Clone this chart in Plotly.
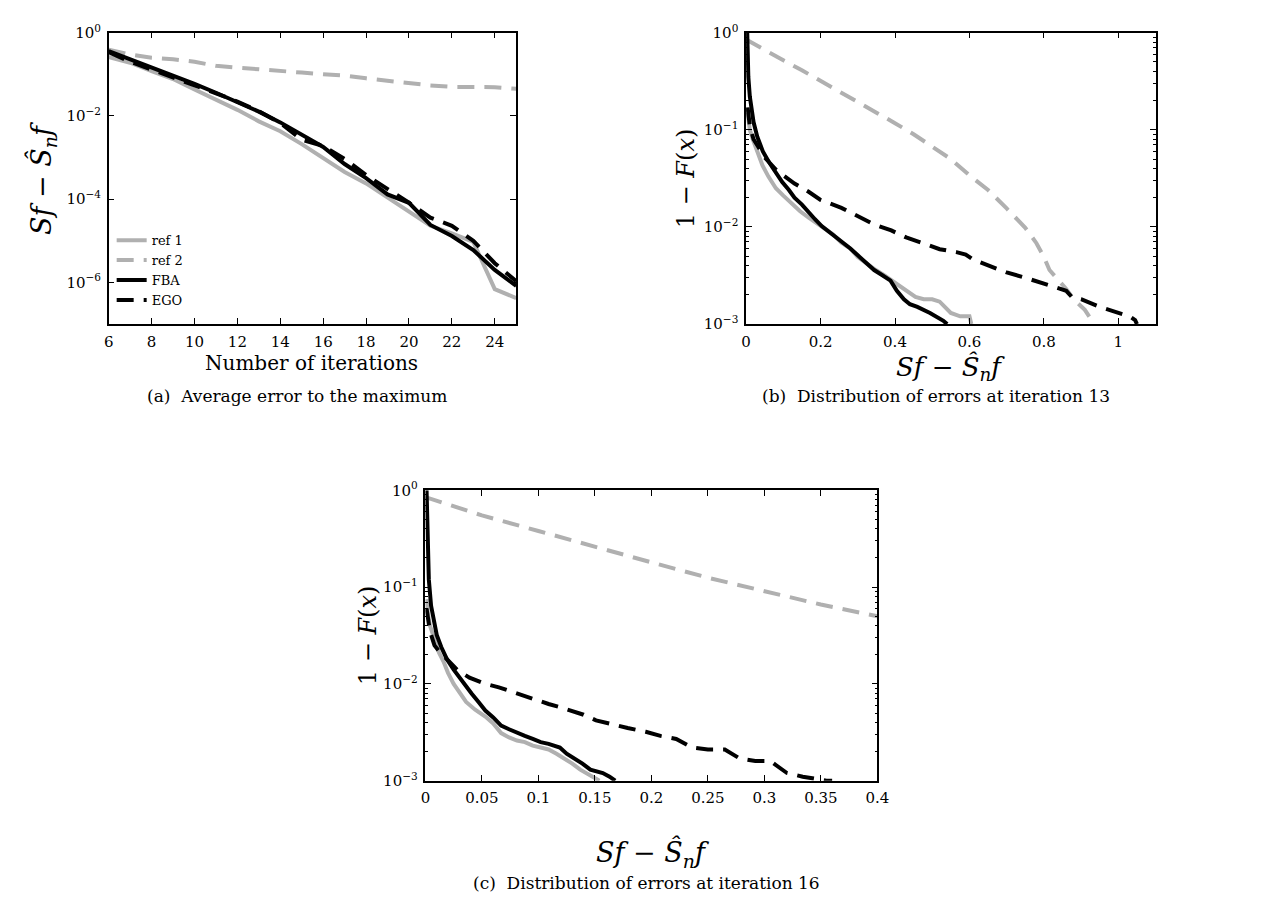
import plotly.graph_objects as go

# ---------------- data ----------------
iters = list(range(6, 26))
a_ref1 = [0.26, 0.19, 0.12, 0.077, 0.043, 0.025, 0.014, 0.0074, 0.0043, 0.0021, 0.001, 0.00045,
          0.00024, 0.00011, 5.2e-5, 2.3e-5, 1.5e-5, 9.4e-6, 6.9e-7, 4.2e-7]
a_ref2 = [0.39, 0.3, 0.25, 0.23, 0.2, 0.16, 0.145, 0.13, 0.12, 0.11, 0.1, 0.093, 0.08, 0.07,
          0.061, 0.054, 0.05, 0.05, 0.049, 0.045]
a_fba = [0.36, 0.23, 0.145, 0.093, 0.059, 0.036, 0.022, 0.0127, 0.007, 0.0036, 0.0018, 0.0007,
         0.00032, 0.00013, 8.2e-5, 2.4e-5, 1.3e-5, 6e-6, 2e-6, 8.3e-7]
a_ego = [0.34, 0.2, 0.13, 0.085, 0.055, 0.035, 0.022, 0.013, 0.0068, 0.0027, 0.0019, 0.00093,
         0.00038, 0.00018, 8.2e-5, 3.6e-5, 2.3e-5, 1.0e-5, 2.9e-6, 1.07e-6]

b_ref1_x = [0.004, 0.006, 0.01, 0.018, 0.03, 0.044, 0.06, 0.08, 0.1, 0.124, 0.145, 0.168, 0.19,
            0.212, 0.235, 0.256, 0.28, 0.3, 0.32, 0.344, 0.37, 0.397, 0.43, 0.455, 0.477, 0.5,
            0.52, 0.535, 0.55, 0.575, 0.6, 0.605]
b_ref1_y = [0.15, 0.12, 0.1, 0.08, 0.058, 0.043, 0.033, 0.025, 0.021, 0.017, 0.0145, 0.0125, 0.011,
            0.0095, 0.0083, 0.0069, 0.006, 0.0049, 0.0043, 0.0037, 0.0032, 0.0027, 0.0022, 0.0019,
            0.0018, 0.0018, 0.0017, 0.0015, 0.0013, 0.0012, 0.0012, 0.001]
b_ref2_x = [0.0, 0.05, 0.1, 0.15, 0.2, 0.25, 0.3, 0.35, 0.4, 0.45, 0.5, 0.55, 0.6, 0.65, 0.7,
            0.75, 0.78, 0.8, 0.815, 0.83, 0.86, 0.88, 0.91, 0.935]
b_ref2_y = [0.85, 0.66, 0.52, 0.41, 0.32, 0.25, 0.19, 0.15, 0.117, 0.09, 0.068, 0.05, 0.034,
            0.024, 0.0155, 0.0098, 0.0068, 0.0049, 0.0036, 0.0031, 0.0023, 0.0018, 0.0014, 0.001]
b_fba_x = [0.003, 0.004, 0.006, 0.01, 0.015, 0.02, 0.03, 0.045, 0.062, 0.08, 0.097, 0.115, 0.13,
           0.15, 0.168, 0.185, 0.203, 0.23, 0.256, 0.28, 0.3, 0.32, 0.344, 0.365, 0.388, 0.405,
           0.424, 0.44, 0.46, 0.494, 0.515, 0.53, 0.54]
b_fba_y = [1.0, 0.6, 0.35, 0.22, 0.15, 0.12, 0.085, 0.06, 0.046, 0.036, 0.029, 0.024, 0.020,
           0.017, 0.014, 0.012, 0.0102, 0.0085, 0.0072, 0.006, 0.0051, 0.0043, 0.0036, 0.0032,
           0.0028, 0.0022, 0.0018, 0.0016, 0.0015, 0.0013, 0.00118, 0.00108, 0.001]
b_ego_x = [0.004, 0.01, 0.02, 0.035, 0.05, 0.065, 0.08, 0.1, 0.13, 0.168, 0.2, 0.256, 0.3, 0.344,
           0.39, 0.43, 0.48, 0.52, 0.565, 0.59, 0.61, 0.65, 0.7, 0.75, 0.785, 0.83, 0.86, 0.875,
           0.9, 0.95, 1.0, 1.03, 1.045, 1.05]
b_ego_y = [0.17, 0.11, 0.08, 0.065, 0.052, 0.045, 0.039, 0.034, 0.028, 0.023, 0.019, 0.0157,
           0.0128, 0.0106, 0.0092, 0.0078, 0.0067, 0.0059, 0.0055, 0.0052, 0.0046, 0.004, 0.0034,
           0.003, 0.0027, 0.0024, 0.0022, 0.0019, 0.0018, 0.0015, 0.0013, 0.0012, 0.0011, 0.001]

c_ref1_x = [0.001, 0.002, 0.004, 0.008, 0.012, 0.016, 0.02, 0.025, 0.03, 0.036, 0.044, 0.053,
            0.06, 0.067, 0.074, 0.081, 0.088, 0.095, 0.102, 0.109, 0.116, 0.123, 0.13, 0.137,
            0.143, 0.148, 0.154]
c_ref1_y = [0.075, 0.055, 0.04, 0.029, 0.021, 0.017, 0.013, 0.01, 0.0082, 0.0065, 0.0054, 0.0046,
            0.0039, 0.0031, 0.0028, 0.0026, 0.0025, 0.0023, 0.0022, 0.0021, 0.0019, 0.0017,
            0.0015, 0.0013, 0.0012, 0.0011, 0.001]
c_ref2_x = [0.0, 0.05, 0.1, 0.15, 0.2, 0.25, 0.3, 0.35, 0.4]
c_ref2_y = [0.85, 0.55, 0.38, 0.26, 0.18, 0.125, 0.09, 0.066, 0.05]
c_fba_x = [0.001, 0.0015, 0.002, 0.003, 0.005, 0.008, 0.01, 0.014, 0.019, 0.025, 0.03, 0.036,
           0.041, 0.047, 0.053, 0.06, 0.067, 0.074, 0.081, 0.088, 0.095, 0.102, 0.109, 0.114,
           0.119, 0.125, 0.132, 0.139, 0.146, 0.152, 0.157, 0.163, 0.168]
c_fba_y = [1.0, 0.5, 0.25, 0.12, 0.064, 0.04, 0.032, 0.024, 0.018, 0.014, 0.0116, 0.0095, 0.0079,
           0.0065, 0.0053, 0.0045, 0.0037, 0.0034, 0.0031, 0.0029, 0.0027, 0.0025, 0.0024, 0.0023,
           0.0022, 0.0019, 0.0017, 0.0015, 0.0013, 0.00125, 0.0012, 0.0011, 0.001]
c_ego_x = [0.001, 0.004, 0.008, 0.013, 0.019, 0.028, 0.039, 0.053, 0.065, 0.081, 0.095, 0.109,
           0.12, 0.126, 0.14, 0.151, 0.165, 0.179, 0.195, 0.208, 0.222, 0.236, 0.25, 0.265, 0.278,
           0.292, 0.305, 0.312, 0.32, 0.334, 0.343, 0.355, 0.36]
c_ego_y = [0.06, 0.035, 0.025, 0.021, 0.018, 0.014, 0.0116, 0.01, 0.0092, 0.0079, 0.007, 0.0062,
           0.0057, 0.0054, 0.0048, 0.0042, 0.0038, 0.0035, 0.0032, 0.0029, 0.0027, 0.0022, 0.0021,
           0.0021, 0.0017, 0.0016, 0.0016, 0.0014, 0.0012, 0.0011, 0.00105, 0.001, 0.001]

a_xticks = [6, 8, 10, 12, 14, 16, 18, 20, 22, 24]
a_yticks = [1, 1e-2, 1e-4, 1e-6]
a_ytext = ["10<sup>0</sup>", "10<sup>−2</sup>", "10<sup>−4</sup>", "10<sup>−6</sup>"]
b_xticks = [0, 0.2, 0.4, 0.6, 0.8, 1.0]
b_xtext = ["0", "0.2", "0.4", "0.6", "0.8", "1"]
c_xticks = [0, 0.05, 0.1, 0.15, 0.2, 0.25, 0.3, 0.35, 0.4]
c_xtext = ["0", "0.05", "0.1", "0.15", "0.2", "0.25", "0.3", "0.35", "0.4"]
bc_yticks = [1, 0.1, 0.01, 0.001]
bc_ytext = ["10<sup>0</sup>", "10<sup>−1</sup>", "10<sup>−2</sup>", "10<sup>−3</sup>"]
names = ["ref 1", "ref 2", "FBA", "EGO"]

# ---------------- styling ----------------
GRAY = "#b0b0b0"
W = 4
DASH = "17px,10px"
styles = {
    "ref 1": dict(color=GRAY, width=W, dash="solid"),
    "ref 2": dict(color=GRAY, width=W, dash=DASH),
    "FBA": dict(color="black", width=W, dash="solid"),
    "EGO": dict(color="black", width=W, dash=DASH),
}
FONT = "DejaVu Serif, Liberation Serif, serif"
WID, HEI = 1276, 899

fig = go.Figure()

def add(x, y, name, xa, ya, legend):
    fig.add_trace(go.Scatter(x=x, y=y, mode="lines", name=name, line=styles[name],
                             xaxis=xa, yaxis=ya, showlegend=legend))

for nm, ys in zip(names, [a_ref1, a_ref2, a_fba, a_ego]):
    add(iters, ys, nm, "x", "y", True)
for nm, xs, ys in zip(names, [b_ref1_x, b_ref2_x, b_fba_x, b_ego_x],
                      [b_ref1_y, b_ref2_y, b_fba_y, b_ego_y]):
    add(xs, ys, nm, "x2", "y2", False)
for nm, xs, ys in zip(names, [c_ref1_x, c_ref2_x, c_fba_x, c_ego_x],
                      [c_ref1_y, c_ref2_y, c_fba_y, c_ego_y]):
    add(xs, ys, nm, "x3", "y3", False)

def px_dom(x0, x1):
    return [x0 / WID, x1 / WID]

def py_dom(y0, y1):
    return [1 - y1 / HEI, 1 - y0 / HEI]

axbase = dict(showline=True, linecolor="black", linewidth=1.5, mirror="allticks",
              ticks="inside", ticklen=6, tickcolor="black", tickwidth=1.2, showgrid=False,
              zeroline=False, ticklabelstandoff=3,
              tickfont=dict(family=FONT, size=15, color="black"))

# panel geometry (pixels)
A = (97, 510, 14, 312)
B = (743, 1158, 14, 312)
C = (418, 876, 482, 779)

minor_vals = [k * 10 ** e for e in (-3, -2, -1) for k in range(2, 10)]
minor = dict(ticks="inside", ticklen=3, tickcolor="black", tickvals=minor_vals, showgrid=False)

fig.update_layout(
    xaxis=dict(axbase, domain=px_dom(A[0], A[1]), anchor="y", range=[6, 25],
               tickvals=a_xticks),
    yaxis=dict(axbase, domain=py_dom(A[2], A[3]), anchor="x", type="log", range=[-7, 0],
               tickvals=a_yticks, ticktext=a_ytext),
    xaxis2=dict(axbase, domain=px_dom(B[0], B[1]), anchor="y2", range=[0, 1.1],
                tickvals=b_xticks, ticktext=b_xtext),
    yaxis2=dict(axbase, domain=py_dom(B[2], B[3]), anchor="x2", type="log", range=[-3, 0],
                tickvals=bc_yticks, ticktext=bc_ytext, minor=minor),
    xaxis3=dict(axbase, domain=px_dom(C[0], C[1]), anchor="y3", range=[0, 0.4],
                tickvals=c_xticks, ticktext=c_xtext),
    yaxis3=dict(axbase, domain=py_dom(C[2], C[3]), anchor="x3", type="log", range=[-3, 0],
                tickvals=bc_yticks, ticktext=bc_ytext, minor=minor),
)

def ann(text, x, y, size, angle=0):
    fig.add_annotation(text=text, x=x / WID, y=1 - y / HEI, xref="paper", yref="paper",
                       showarrow=False, textangle=angle, xanchor="center", yanchor="middle",
                       font=dict(family=FONT, size=size, color="black"))

SHAT = "<i>Sf</i> − <i>Ŝ<sub>n</sub>f</i>"
ONEF = "1 − <i>F</i>(<i>x</i>)"
ann(SHAT, 30, 163, 27, -90)
ann("Number of iterations", 303, 352, 20)
ann("(a)  Average error to the maximum", 288, 386, 17)
ann(ONEF, 682, 163, 24, -90)
ann(SHAT, 950, 357, 26)
ann("(b)  Distribution of errors at iteration 13", 935, 386, 17)
ann(ONEF, 360, 630, 24, -90)
ann(SHAT, 648, 853, 27)
ann("(c)  Distribution of errors at iteration 16", 642, 884, 17)

fig.update_layout(
    width=WID, height=HEI, margin=dict(l=0, r=0, t=0, b=0),
    paper_bgcolor="white", plot_bgcolor="white",
    showlegend=True,
    legend=dict(x=100 / WID, y=1 - 303 / HEI, xanchor="left", yanchor="bottom",
                bgcolor="rgba(0,0,0,0)", borderwidth=0, tracegroupgap=0,
                font=dict(family=FONT, size=13, color="black"), itemwidth=30),
)

fig.write_html("out.html")
